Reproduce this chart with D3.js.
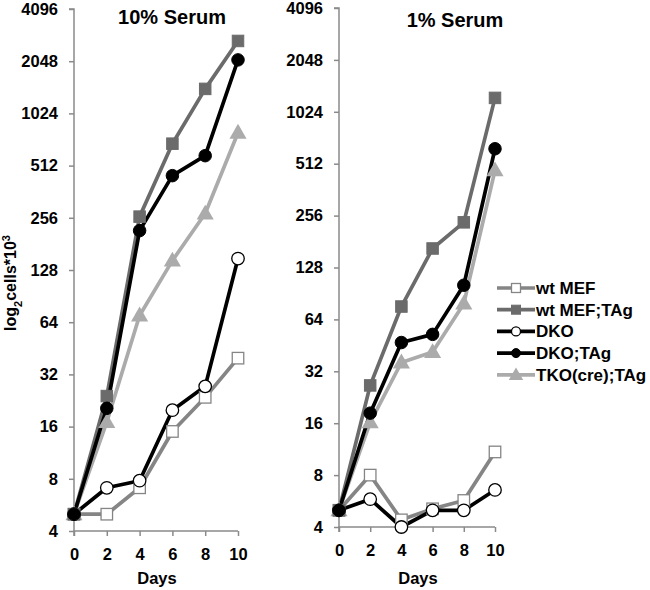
<!DOCTYPE html>
<html>
<head>
<meta charset="utf-8">
<script src="https://cdn.jsdelivr.net/npm/d3@7"></script>
<style>
  body { margin: 0; background: #fff; }
  svg { display: block; font-family: "Liberation Sans", Arial, Helvetica, sans-serif; font-weight: bold; }
</style>
</head>
<body>
<svg id="chart" width="650" height="590"></svg>
<script>
const days = [0, 2, 4, 6, 8, 10];
const yTicks = [4, 8, 16, 32, 64, 128, 256, 512, 1024, 2048, 4096];
const xTicks = [0, 2, 4, 6, 8, 10];
const seriesNames = ["wt MEF", "wt MEF;TAg", "DKO", "DKO;TAg", "TKO(cre);TAg"];

// 10% serum
const serum10_wtMEF    = [5, 5, 7.1, 15, 23.6, 39.7];
const serum10_wtMEFTAg = [5, 24, 260, 685, 1418, 2680];
const serum10_DKO      = [5, 7.1, 7.8, 19.9, 27.3, 149];
const serum10_DKOTAg   = [5, 20.4, 216, 448, 584, 2084];
const serum10_TKOTAg   = [5, 17, 70, 145, 271, 792];

// 1% serum
const serum1_wtMEF    = [5, 8, 4.4, 5.1, 5.7, 10.9];
const serum1_wtMEFTAg = [5, 26.5, 76, 165, 234, 1233];
const serum1_DKO      = [5, 5.8, 4.0, 5.0, 5.0, 6.56];
const serum1_DKOTAg   = [5, 18.3, 47, 52.4, 101, 625];
const serum1_TKOTAg   = [5, 16.2, 36, 41.4, 79, 468];

const styles = [
  { line: "#858585", fill: "#ffffff", stroke: "#858585", shape: "square", strokeW: 1.3 },
  { line: "#6b6b6b", fill: "#6b6b6b", stroke: "#6b6b6b", shape: "square", strokeW: 1 },
  { line: "#000000", fill: "#ffffff", stroke: "#000000", shape: "circle", strokeW: 1.3 },
  { line: "#000000", fill: "#000000", stroke: "#000000", shape: "circle", strokeW: 1 },
  { line: "#ababab", fill: "#ababab", stroke: "#ababab", shape: "triangle", strokeW: 1 }
];

const svg = d3.select("#chart");

function marker(g, shape, x, y, st, size) {
  if (shape === "square") {
    g.append("rect").attr("x", x - size/2).attr("y", y - size/2)
      .attr("width", size).attr("height", size)
      .attr("fill", st.fill).attr("stroke", st.stroke).attr("stroke-width", st.strokeW);
  } else if (shape === "circle") {
    g.append("circle").attr("cx", x).attr("cy", y).attr("r", size/2)
      .attr("fill", st.fill).attr("stroke", st.stroke).attr("stroke-width", st.strokeW);
  } else {
    const sym = d3.symbol().type(d3.symbolTriangle).size(size*size*0.75);
    g.append("path").attr("d", sym()).attr("transform", `translate(${x},${y + 1})`)
      .attr("fill", st.fill);
  }
}

function panel(opts) {
  const x = d3.scaleLinear().domain([0, 10]).range([opts.x0, opts.x1]);
  const y = d3.scaleLog().base(2).domain([4, 4096]).range([opts.yb, opts.yt]);
  const g = svg.append("g");

  const yAxis = g.append("g").attr("transform", `translate(${opts.x0},0)`)
    .call(d3.axisLeft(y).tickValues(yTicks).tickFormat(d3.format("d")).tickSize(5).tickPadding(opts.ypad));
  const xAxis = g.append("g").attr("transform", `translate(0,${opts.yb})`)
    .call(d3.axisBottom(x).tickValues(xTicks).tickFormat(d3.format("d")).tickSize(5).tickPadding(12));
  [yAxis, xAxis].forEach(a => {
    a.select(".domain").attr("stroke", "#8a8a8a").attr("stroke-width", 1.5);
    a.selectAll(".tick line").attr("stroke", "#8a8a8a").attr("stroke-width", 1.5);
    a.selectAll(".tick text").attr("fill", "#000").style("font-size", "16.5px").style("font-weight", "bold")
      .style("font-family", "'Liberation Sans', Arial, sans-serif");
  });
  yAxis.select(".domain").attr("d", `M-5,${opts.yt}H0V${opts.yb}`);
  xAxis.select(".domain").attr("d", `M${opts.x0},5V0H${opts.x1}`);

  g.append("text").attr("x", opts.titleX).attr("y", opts.titleY).attr("text-anchor", "middle")
    .style("font-size", "20px").text(opts.title);
  g.append("text").attr("x", (opts.x0 + opts.x1) / 2 + 1).attr("y", 584).attr("text-anchor", "middle")
    .style("font-size", "16.5px").text("Days");

  const line = d3.line().x((d, i) => x(days[i])).y(d => y(d));
  const order = [4, 0, 2, 1, 3];
  order.forEach(si => {
    g.append("path").datum(opts.data[si]).attr("d", line)
      .attr("fill", "none").attr("stroke", styles[si].line).attr("stroke-width", 3.7)
      .attr("stroke-linejoin", "round");
  });
  order.forEach(si => {
    const mg = g.append("g");
    opts.data[si].forEach((v, i) => {
      const st = styles[si];
      const size = st.shape === "square" ? 11.5 : (st.shape === "circle" ? 12.5 : 13);
      marker(mg, st.shape, x(days[i]), y(v), st, size);
    });
  });
}

panel({
  x0: 74, x1: 238, yb: 531, yt: 9, ypad: 11, title: "10% Serum", titleX: 172, titleY: 24,
  data: [serum10_wtMEF, serum10_wtMEFTAg, serum10_DKO, serum10_DKOTAg, serum10_TKOTAg]
});
panel({
  x0: 339, x1: 495, yb: 527, yt: 8, ypad: 11, title: "1% Serum", titleX: 455, titleY: 27,
  data: [serum1_wtMEF, serum1_wtMEFTAg, serum1_DKO, serum1_DKOTAg, serum1_TKOTAg]
});

// y label
const yl = svg.append("text").attr("transform", "translate(16,283) rotate(-90)")
  .attr("text-anchor", "middle").style("font-size", "16px");
yl.append("tspan").text("log");
yl.append("tspan").attr("baseline-shift", "sub").style("font-size", "11px").text("2");
yl.append("tspan").text("cells*10");
yl.append("tspan").attr("baseline-shift", "super").style("font-size", "11px").text("3");

// legend
const lg = svg.append("g");
seriesNames.forEach((name, i) => {
  const yy = 288 + i * 21.7;
  const st = styles[i];
  lg.append("line").attr("x1", 497).attr("x2", 535).attr("y1", yy).attr("y2", yy)
    .attr("stroke", st.line).attr("stroke-width", 3.7);
  const size = st.shape === "square" ? 9 : (st.shape === "circle" ? 9 : 11);
  marker(lg, st.shape, 516, yy, st, size);
  lg.append("text").attr("x", 536).attr("y", yy + 6).style("font-size", "17px").text(name);
});
</script>
</body>
</html>
